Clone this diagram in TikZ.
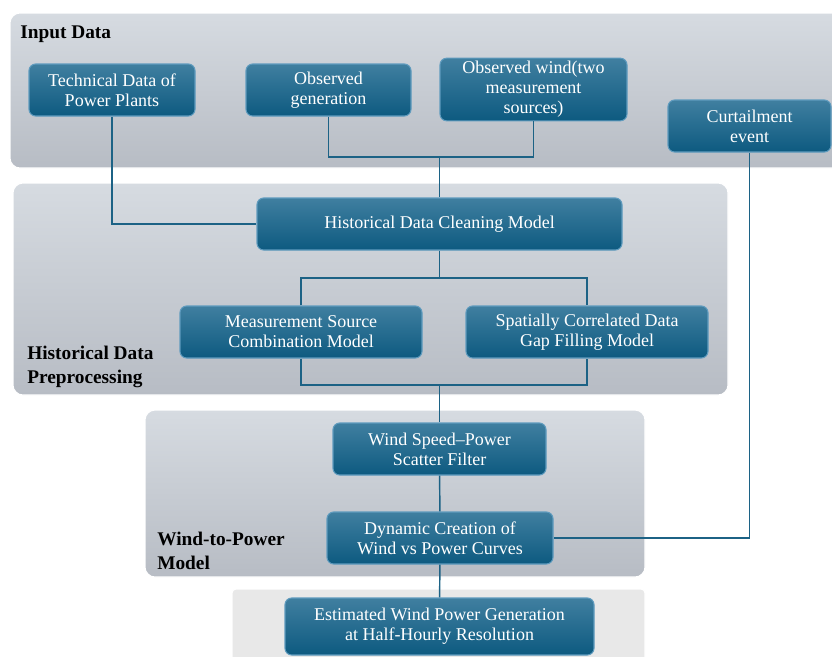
\documentclass[tikz,border=0pt]{standalone}
\usepackage{fontspec}
\setmainfont{Liberation Serif}
\definecolor{boxtop}{RGB}{64,127,160}
\definecolor{boxbot}{RGB}{13,90,128}
\definecolor{boxedge}{RGB}{95,155,190}
\definecolor{paneltop}{RGB}{214,219,225}
\definecolor{panelbot}{RGB}{183,188,196}
\definecolor{linkcol}{RGB}{28,98,133}
\tikzset{
    panel/.style={rounded corners=7.5pt, top color=paneltop, bottom color=panelbot, draw=white, line width=0.8pt},
    stage/.style={rounded corners=5pt, top color=boxtop, bottom color=boxbot, draw=boxedge, line width=0.8pt,
        text=white, align=center, inner sep=0pt, minimum height=39pt, font=\fontsize{13.5}{15}\selectfont},
    link/.style={draw=linkcol, line width=1.1pt},
    paneltitle/.style={font=\bfseries\fontsize{14.5}{18}\selectfont, align=left, anchor=west, inner sep=0pt}
}

\begin{document}
\begin{tikzpicture}[x=0.75pt,y=-0.75pt]
                \useasboundingbox (0,0) rectangle (832,657);
                \draw[panel] (10,13) rectangle (845,168);
                \draw[panel] (13,183) rectangle (728,395);
                \draw[panel] (145,410) rectangle (645,577);
                \draw[rounded corners=3pt, fill=black!9, draw=white, line width=0.8pt] (232,589) rectangle (645,670);
                \node[paneltitle] (titleinput) at (20,34) {Input Data};
                \node[paneltitle] (titlehist) at (27,367) {Historical Data\\Preprocessing};
                \node[paneltitle] (titlewind) at (157,551) {Wind-to-Power\\Model};

                \node[stage, minimum width=124.5pt] (tech) at (112,90) {Technical Data of\\Power Plants};
                \node[stage, minimum width=123.75pt] (obsgen) at (328.5,90) {Observed\\generation};
                \node[stage, minimum width=140.25pt, minimum height=47pt] (obswind) at (533.5,89.5) {Observed wind(two\\measurement\\sources)};
                \node[stage, minimum width=122.25pt] (curtail) at (749.5,126) {Curtailment\\event};
                \node[stage, minimum width=273.75pt] (clean) at (439.5,224) {Historical Data Cleaning Model};
                \node[stage, minimum width=181.5pt] (combine) at (301,332) {Measurement Source\\Combination Model};
                \node[stage, minimum width=181.5pt] (gapfill) at (587,332) {Spatially Correlated Data\\Gap Filling Model};
                \node[stage, minimum width=159.75pt] (scatter) at (439.5,449) {Wind Speed--Power\\Scatter Filter};
                \node[stage, minimum width=169.5pt] (curves) at (440,538) {Dynamic Creation of\\Wind vs Power Curves};
                \node[stage, minimum width=231.75pt, minimum height=42.75pt] (estimate) at (439.5,626.5) {Estimated Wind Power Generation\\at Half-Hourly Resolution};

                \coordinate (join) at (439.5,157);
                \coordinate (split) at (439.5,278);
                \coordinate (merge) at (439.5,385);
                \draw[link] (tech.south) |- (clean.west);
                \draw[link] (obsgen.south) |- (join) -| (obswind.south);
                \draw[link] (join) -- (clean.north);
                \draw[link] (clean.south) -- (split);
                \draw[link] (combine.north) |- (split) -| (gapfill.north);
                \draw[link] (combine.south) |- (merge) -| (gapfill.south);
                \draw[link] (merge) -- (scatter.north);
                \draw[link] (scatter) -- (curves);
                \draw[link] (curves) -- (estimate);
                \draw[link] (curtail.south) |- (curves.east);
            \end{tikzpicture}
\end{document}
